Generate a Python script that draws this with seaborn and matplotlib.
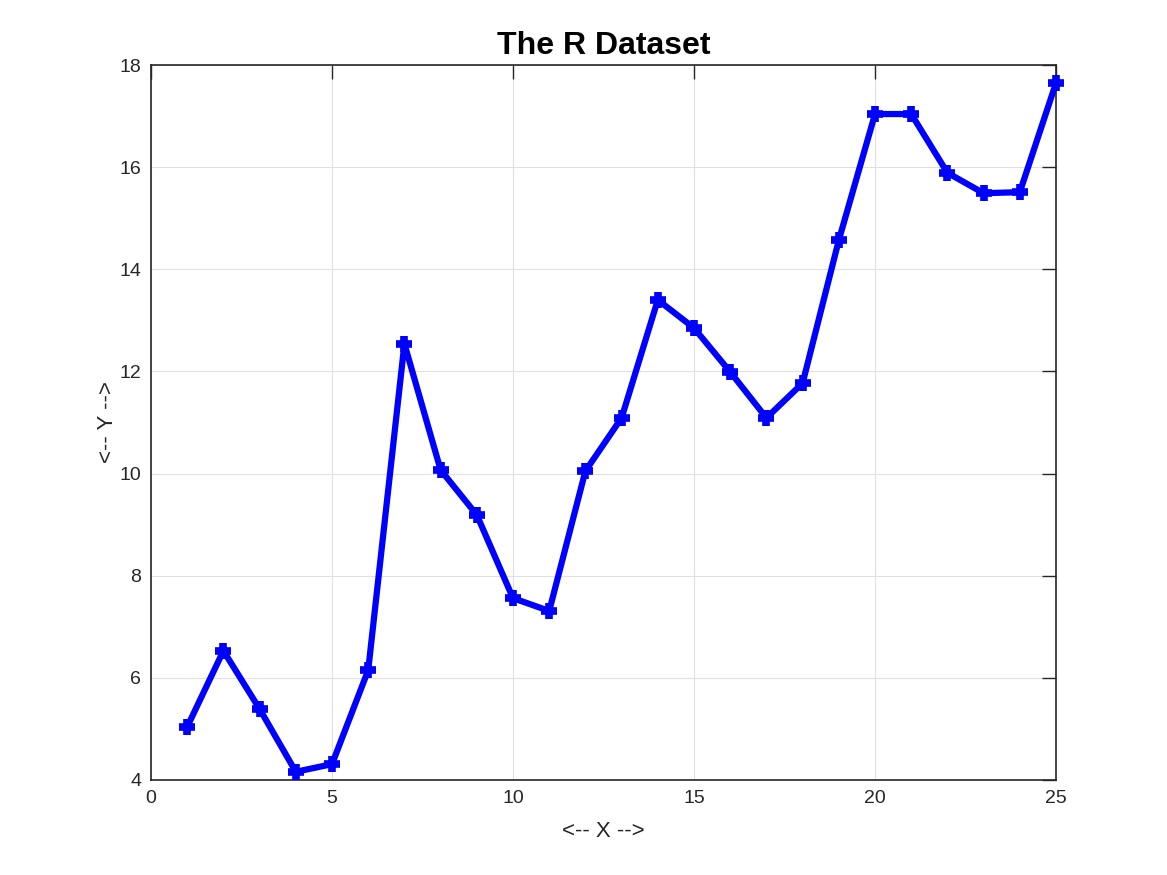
import matplotlib
matplotlib.use("Agg")
import matplotlib.pyplot as plt
import seaborn as sns
import pandas as pd

x_vals = list(range(1, 26))
y_vals = [5.04, 6.53, 5.39, 4.16, 4.31, 6.15, 12.54, 10.07, 9.19, 7.56, 7.31,
          10.05, 11.09, 13.40, 12.85, 11.99, 11.09, 11.77, 14.57, 17.04, 17.04,
          15.89, 15.49, 15.51, 17.65]
x_ticks = [0, 5, 10, 15, 20, 25]
y_ticks = [4, 6, 8, 10, 12, 14, 16, 18]

sns.set_theme(style="white")
plt.rcParams['font.family'] = ['Liberation Sans', 'DejaVu Sans']

df = pd.DataFrame({"x": x_vals, "y": y_vals})

fig = plt.figure(figsize=(11.67, 8.75), dpi=100)
ax = fig.add_axes([0.1294, 0.1086, 0.7755, 0.8171])
sns.lineplot(data=df, x="x", y="y", ax=ax, color="#0000ff", linewidth=4.5,
             marker="+", markersize=12, markeredgewidth=5.5,
             markeredgecolor="#0000ff", clip_on=False, zorder=5)

ax.set_xlim(0, 25)
ax.set_ylim(4, 18)
ax.set_xticks(x_ticks)
ax.set_yticks(y_ticks)
ax.tick_params(direction="in", length=10, width=1, top=True, right=True,
               labelsize=14, colors="#262626", pad=7)
for s in ax.spines.values():
    s.set_color("#262626")
    s.set_linewidth(1.2)
ax.grid(True, color="#e0e0e0", linewidth=0.8)
ax.set_axisbelow(True)
ax.set_xlabel("<-- X -->", fontsize=16, color="#262626", labelpad=10)
ax.set_ylabel("<-- Y -->", fontsize=16, color="#262626", labelpad=1)
ax.set_title("The R Dataset", fontsize=23, fontweight="bold", color="black", pad=8)

fig.savefig("out.png", dpi=100)
